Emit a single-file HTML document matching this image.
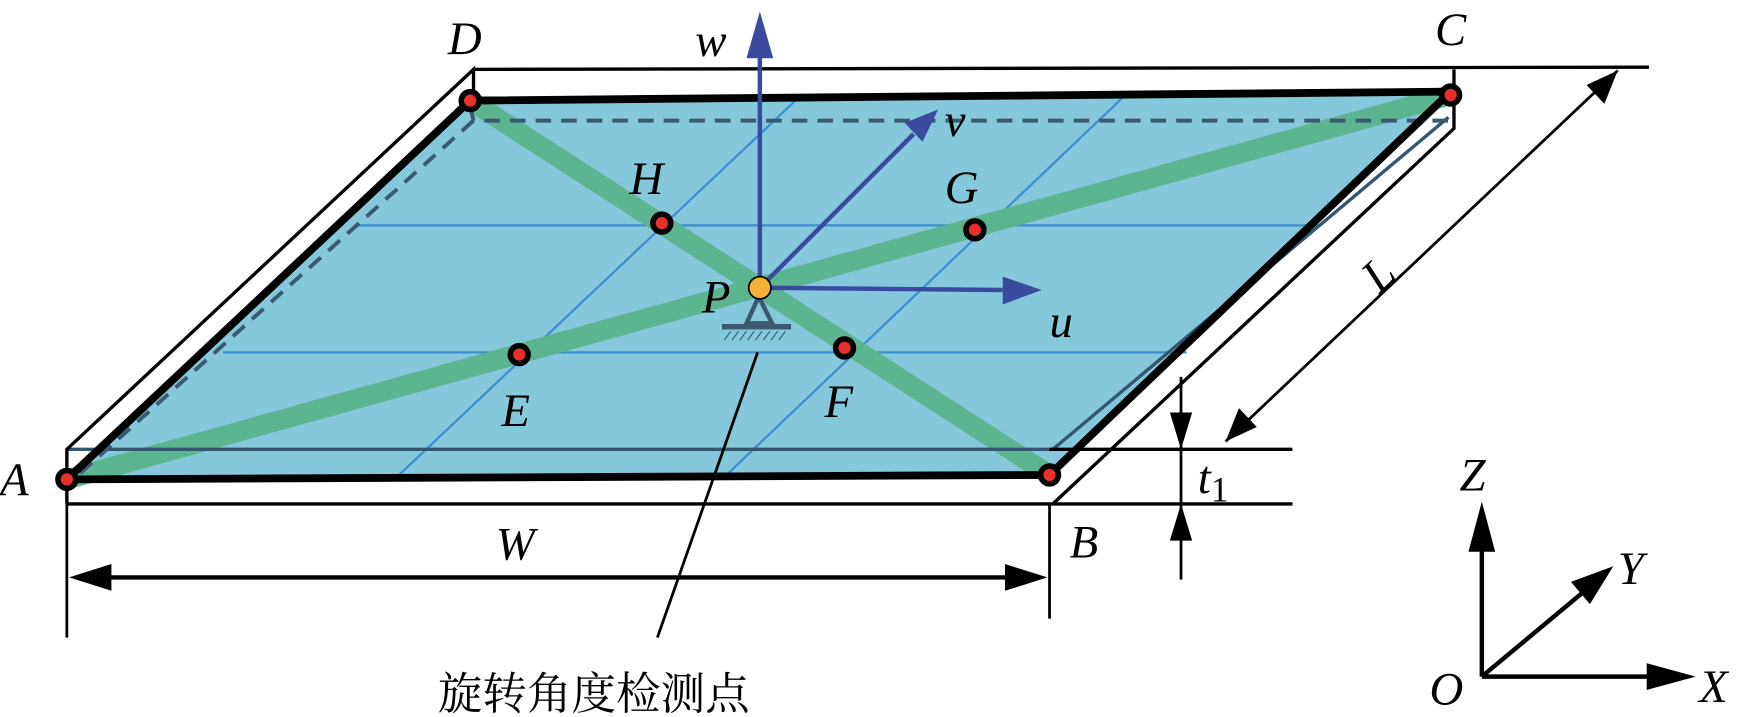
<!DOCTYPE html>
<html><head><meta charset="utf-8"><style>html,body{margin:0;padding:0;background:#fff}svg{display:block}</style></head><body>
<svg width="1747" height="717" viewBox="0 0 1568 643" xmlns="http://www.w3.org/2000/svg">
<polygon points="422,90 1302,85 942,426 60,430" fill="#85c8dc"/>
<g stroke="#3a8fd0" stroke-width="2" fill="none">
<line x1="318" y1="202" x2="1185" y2="202"/><line x1="200" y1="316" x2="1065" y2="316"/>
<line x1="715" y1="89" x2="355" y2="429"/><line x1="1008" y1="87" x2="650" y2="428"/>
</g>
<g stroke="#5ab48c" stroke-width="18" stroke-opacity="0.95">
<line x1="60" y1="430" x2="1302" y2="85"/><line x1="422" y1="90" x2="942" y2="426"/>
</g>
<line x1="60" y1="403" x2="945" y2="403" stroke="#34566e" stroke-width="3"/>
<line x1="1300" y1="105" x2="945" y2="403" stroke="#34566e" stroke-width="3"/>
<g stroke="#3b5a70" stroke-width="3.5" stroke-dasharray="14,9" fill="none">
<polyline points="422,95 425,108 1305,108"/><line x1="425" y1="108" x2="68" y2="428"/>
</g>
<g stroke="#000" stroke-width="3" fill="none">
<polyline points="60,452 60,403 425,62 425,90"/>
<line x1="425" y1="62" x2="1480" y2="60"/>
<polyline points="1305,62 1305,115 945,452"/>
<line x1="60" y1="452" x2="1160" y2="452"/>
<line x1="942" y1="403" x2="1160" y2="403"/>
</g>
<polyline points="60,430 422,90 1302,82 942,426 60,430" stroke="#000" stroke-width="7" fill="none" stroke-linejoin="round"/>
<!-- W -->
<g stroke="#000" stroke-width="2.5"><line x1="60" y1="452" x2="60" y2="572"/><line x1="942" y1="452" x2="942" y2="555"/></g>
<line x1="90" y1="518" x2="912" y2="518" stroke="#000" stroke-width="4"/>
<polygon points="62,518 100,506 100,530" fill="#000"/><polygon points="940,518 902,506 902,530" fill="#000"/>
<!-- t1 -->
<line x1="1060" y1="338" x2="1060" y2="520" stroke="#000" stroke-width="2.5"/>
<polygon points="1060,403 1050,370 1070,370" fill="#000"/><polygon points="1060,452 1050,485 1070,485" fill="#000"/>
<!-- L -->
<line x1="1100" y1="396" x2="1452" y2="63" stroke="#000" stroke-width="2.5"/>
<polygon points="1100,396 1112,366 1128,383" fill="#000"/><polygon points="1452,63 1424,76 1440,93" fill="#000"/>
<!-- blue axes -->
<g stroke="#3a4a9c" stroke-width="4">
<line x1="682" y1="258" x2="682" y2="50"/><line x1="682" y1="258" x2="900" y2="260"/><line x1="682" y1="258" x2="820" y2="120"/>
</g>
<g fill="#3a4a9c">
<polygon points="682,10 670,52 694,52"/><polygon points="935,260 900,248 900,273"/><polygon points="842,98 812,110 828,127"/>
</g>
<polygon points="681,266 670,290 693,290" fill="none" stroke="#3b5a70" stroke-width="4"/>
<line x1="648" y1="293" x2="710" y2="293" stroke="#3b5a70" stroke-width="5"/>
<g stroke="#3b5a70" stroke-width="1">
<line x1="650" y1="305" x2="656" y2="297"/><line x1="657" y1="305" x2="663" y2="297"/><line x1="664" y1="305" x2="670" y2="297"/><line x1="671" y1="305" x2="677" y2="297"/><line x1="678" y1="305" x2="684" y2="297"/><line x1="685" y1="305" x2="691" y2="297"/><line x1="692" y1="305" x2="698" y2="297"/><line x1="699" y1="305" x2="705" y2="297"/>
</g>
<line x1="680" y1="316" x2="590" y2="572" stroke="#000" stroke-width="2.5"/>
<g fill="#e8302a" stroke="#000" stroke-width="5">
<circle cx="60" cy="430" r="8"/><circle cx="942" cy="426" r="8"/><circle cx="1302" cy="85" r="8"/><circle cx="422" cy="90" r="8"/>
<circle cx="594" cy="200" r="8"/><circle cx="875" cy="206" r="8"/><circle cx="466" cy="318" r="8"/><circle cx="758" cy="312" r="8"/>
</g>
<circle cx="682" cy="258" r="10" fill="#f2b134" stroke="#000" stroke-width="1.5"/>
<g stroke="#000" stroke-width="4"><line x1="1330" y1="607" x2="1330" y2="490"/><line x1="1330" y1="607" x2="1480" y2="607"/><line x1="1330" y1="607" x2="1420" y2="532"/></g>
<g fill="#000"><polygon points="1330,450 1318,495 1342,495"/><polygon points="1522,607 1478,595 1478,619"/><polygon points="1448,508 1410,522 1427,542"/></g>
<g font-family="'Liberation Serif','DejaVu Serif',serif" font-style="italic" font-size="42" fill="#000">
<text x="402" y="48">D</text><text x="1288" y="40">C</text>
<text x="0" y="444">A</text><text x="960" y="500">B</text>
<text x="624" y="50">w</text><text x="848" y="122">v</text>
<text x="942" y="302">u</text><text x="630" y="280">P</text>
<text x="565" y="174">H</text><text x="848" y="182">G</text>
<text x="450" y="382">E</text><text x="740" y="374">F</text>
<text x="445" y="502">W</text>
<text x="1075" y="442">t<tspan font-style="normal" font-size="32" dy="8">1</tspan></text>
<text transform="translate(1238,264) rotate(-43)">L</text>
<text x="1310" y="440">Z</text><text x="1452" y="524">Y</text>
<text x="1525" y="630">X</text><text x="1283" y="632">O</text>
</g>
<text x="393" y="636" font-family="'Liberation Serif','Noto Serif CJK SC',serif" font-size="40">旋转角度检测点</text>
</svg>
</body></html>
